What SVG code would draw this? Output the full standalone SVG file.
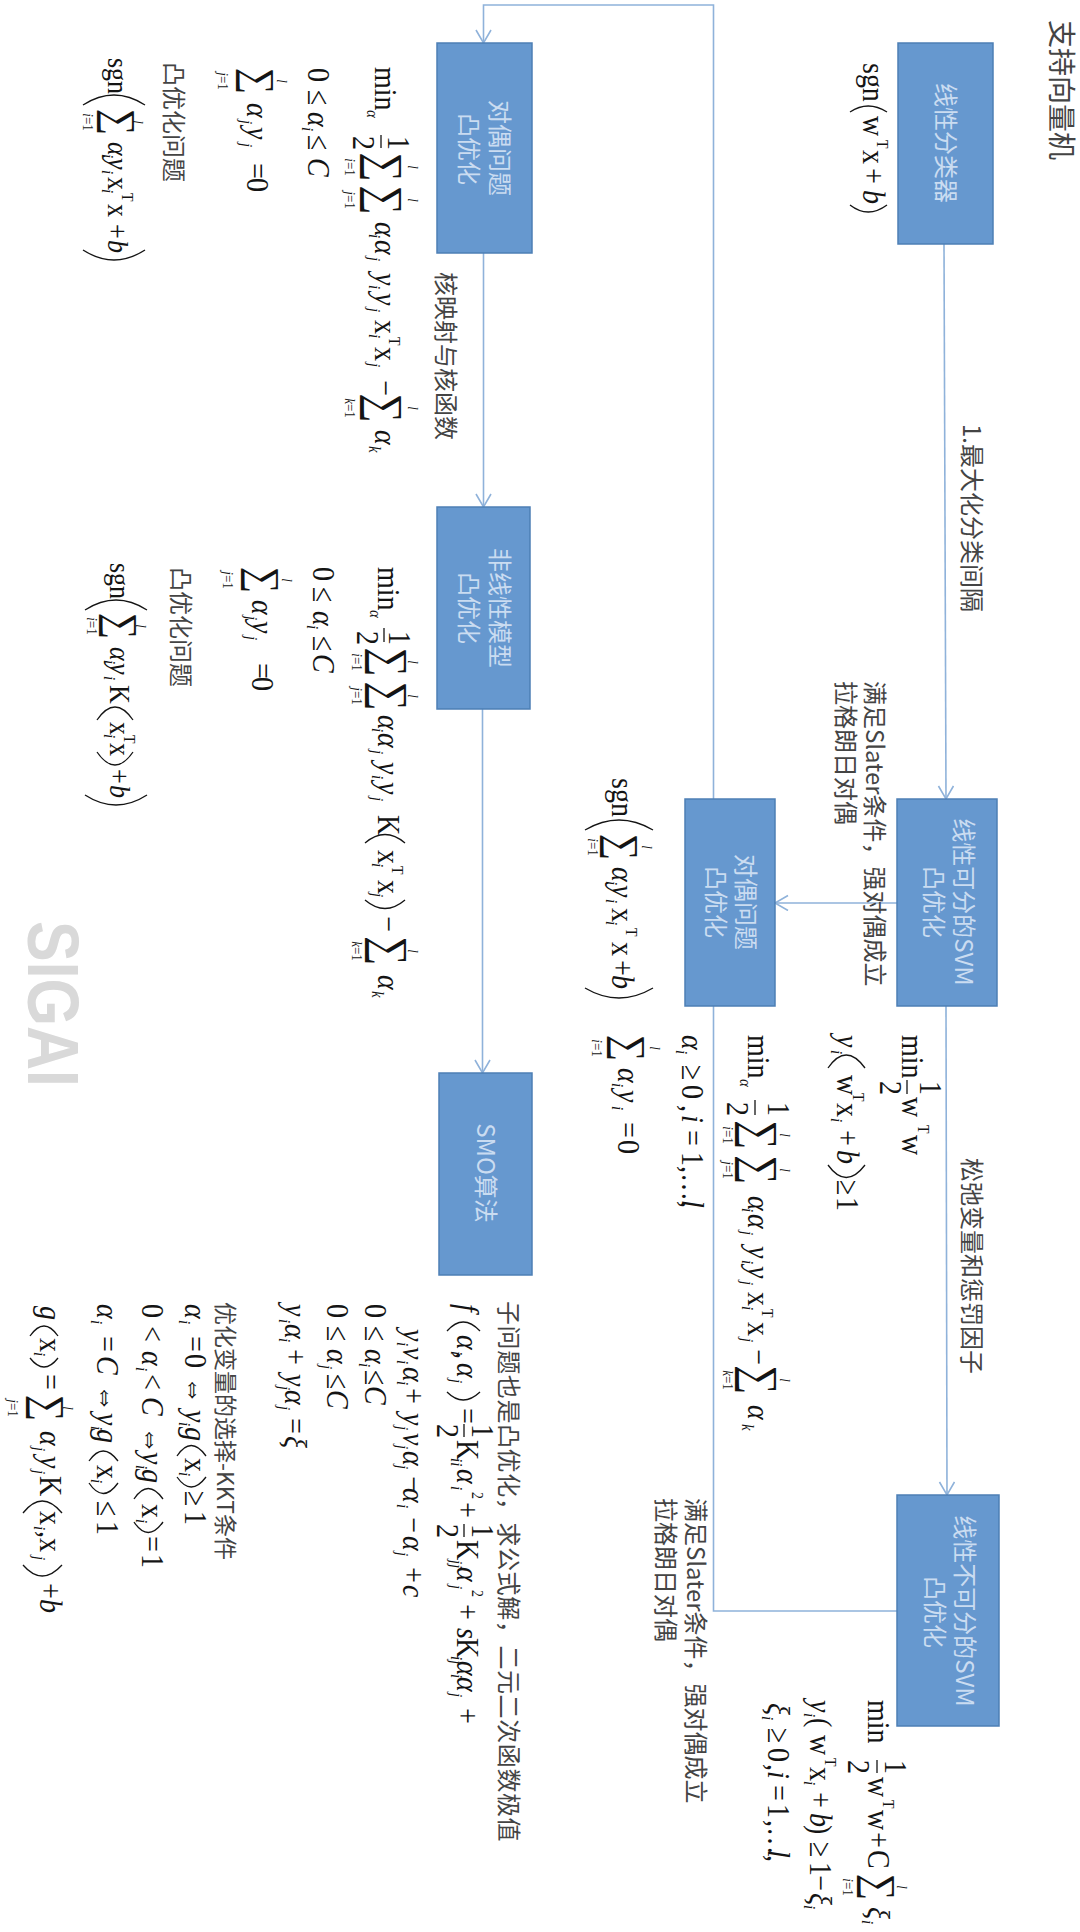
<svg xmlns="http://www.w3.org/2000/svg" width="1080" height="1932" viewBox="0 0 1080 1932">
<style>
.box{fill:#6698cf;stroke:#4d7fb5;stroke-width:1.5}
.c{fill:none;stroke:#8fb2da;stroke-width:1.6}
.t{font-family:"Noto Sans CJK SC","Liberation Sans",sans-serif;font-size:24px;fill:#444}
.w{font-family:"Noto Sans CJK SC","Liberation Sans",sans-serif;font-size:24px;fill:#cadcf1;text-anchor:middle}
.m{font-family:"Liberation Serif","DejaVu Serif",serif;font-size:28px;fill:#141414}
.n{font-size:26px}
.i{font-style:italic}
.s{font-size:15px;font-style:italic}
.u{font-size:14px;font-style:normal}
.l{font-family:"Liberation Serif",serif;font-size:13px;fill:#141414;text-anchor:middle}
.g{font-family:"Liberation Serif",serif;font-size:41px;fill:#141414;text-anchor:middle}
.h{font-size:37px}
.p{fill:none;stroke:#141414;stroke-width:1.3}
.logo{font-family:"Liberation Sans",sans-serif;font-weight:bold;font-size:72px;fill:#d9d9d9}
</style>
<defs>
<marker id="a" markerUnits="userSpaceOnUse" markerWidth="16" markerHeight="18" refX="14" refY="8" orient="auto"><path d="M1,0.5 L14,8 L1,15.5" fill="none" stroke="#8fb2da" stroke-width="1.6"/></marker>
</defs>

<g id="connectors">
<path class="c" d="M713.5 799V5H483.5V43" marker-end="url(#a)"/>
<path class="c" d="M944 244L946 799" marker-end="url(#a)"/>
<path class="c" d="M946 1006L947 1495" marker-end="url(#a)"/>
<path class="c" d="M897 903H775" marker-end="url(#a)"/>
<path class="c" d="M897 1611H713.5V1006"/>
<path class="c" d="M483.5 253V507" marker-end="url(#a)"/>
<path class="c" d="M482.5 709V1073" marker-end="url(#a)"/>
</g>

<g id="title"><text class="t" style="font-size:28px" transform="translate(1051,20) rotate(90)">支持向量机</text></g>

<g id="n-linear"><rect class="box" x="898" y="43" width="95" height="201"/><text class="w" transform="translate(937,143) rotate(90)">线性分类器</text></g>
<g id="n-dual-left"><rect class="box" x="437" y="43" width="95" height="210"/><text class="w" transform="translate(491,148) rotate(90)">对偶问题</text><text class="w" transform="translate(460,149) rotate(90)">凸优化</text></g>
<g id="n-nonlinear"><rect class="box" x="437" y="507" width="93" height="202"/><text class="w" transform="translate(491,608) rotate(90)">非线性模型</text><text class="w" transform="translate(460,608) rotate(90)">凸优化</text></g>
<g id="n-separable"><rect class="box" x="897" y="799" width="100" height="207"/><text class="w" transform="translate(955,902) rotate(90)">线性可分的SVM</text><text class="w" transform="translate(925,902) rotate(90)">凸优化</text></g>
<g id="n-dual-mid"><rect class="box" x="685" y="799" width="90" height="207"/><text class="w" transform="translate(737,902) rotate(90)">对偶问题</text><text class="w" transform="translate(707,902) rotate(90)">凸优化</text></g>
<g id="n-smo"><rect class="box" x="439" y="1073" width="93" height="202"/><text class="w" transform="translate(477,1173) rotate(90)">SMO算法</text></g>
<g id="n-nonseparable"><rect class="box" x="897" y="1495" width="102" height="231"/><text class="w" transform="translate(956,1611) rotate(90)">线性不可分的SVM</text><text class="w" transform="translate(926,1612) rotate(90)">凸优化</text></g>

<g id="labels">
<text class="t" transform="translate(963,424) rotate(90)">1.最大化分类间隔</text>
<text class="t" transform="translate(437,272) rotate(90)">核映射与核函数</text>
<text class="t" transform="translate(866,681) rotate(90)">满足Slater条件，强对偶成立</text>
<text class="t" transform="translate(837,681) rotate(90)">拉格朗日对偶</text>
<text class="t" transform="translate(963,1158) rotate(90)">松弛变量和惩罚因子</text>
<text class="t" transform="translate(687,1498) rotate(90)">满足Slater条件，强对偶成立</text>
<text class="t" transform="translate(657,1498) rotate(90)">拉格朗日对偶</text>
<text class="t" transform="translate(165,62) rotate(90)">凸优化问题</text>
<text class="t" transform="translate(172,567) rotate(90)">凸优化问题</text>
<text class="t" style="letter-spacing:.6px" transform="translate(500,1301) rotate(90)">子问题也是凸优化，求公式解，二元二次函数极值</text>
<text class="t" style="font-size:23px" transform="translate(217,1302) rotate(90)">优化变量的选择-KKT条件</text>
</g>

<g id="f-linear">
<g transform="translate(863,0) rotate(90) scale(1,1.15)"><text class="m"><tspan x="63">sgn</tspan><tspan x="116">w</tspan><tspan class="u" x="140" y="-12">T</tspan><tspan x="150" y="0">x</tspan><tspan x="168">+</tspan><tspan class="i" x="190">b</tspan></text></g>
<path class="p" d="M850 112Q868 100 887 112M850 205Q868 219 887 205"/>
</g>

<g id="f-dual-left">
<g transform="translate(375,0) rotate(90) scale(1,1.15)">
<text class="m"><tspan x="67">min</tspan><tspan class="s" x="110" y="7">α</tspan><tspan x="136" y="-11">1</tspan><tspan x="136" y="19">2</tspan></text>
<text class="g" x="167" y="4">∑</text><text class="l i" x="167" y="-29">l</text><text class="l" x="167" y="26"><tspan class="i">i</tspan>=1</text>
<text class="g" x="200" y="4">∑</text><text class="l i" x="200" y="-29">l</text><text class="l" x="200" y="26"><tspan class="i">j</tspan>=1</text>
<text class="m"><tspan class="i" x="222">α</tspan><tspan class="s" x="234" y="5">i</tspan><tspan class="i" x="240" y="0">α</tspan><tspan class="s" x="257" y="5">j</tspan><tspan class="i" x="273" y="0">y</tspan><tspan class="s" x="285" y="5">i</tspan><tspan class="i" x="293" y="0">y</tspan><tspan class="s" x="308" y="5">j</tspan><tspan x="320" y="0">x</tspan><tspan class="s" x="334" y="5">i</tspan><tspan class="u" x="337" y="-12">T</tspan><tspan x="347" y="0">x</tspan><tspan class="s" x="363" y="5">j</tspan><tspan x="380" y="0">−</tspan></text>
<text class="g" x="408" y="4">∑</text><text class="l i" x="408" y="-29">l</text><text class="l" x="408" y="26"><tspan class="i">k</tspan>=1</text>
<text class="m"><tspan class="i" x="430">α</tspan><tspan class="s" x="446" y="5">k</tspan></text>
</g>
<path class="p" d="M381 135V148"/>
</g>

<g id="f-dual-left-c1"><g transform="translate(308,0) rotate(90) scale(1,1.15)"><text class="m"><tspan x="68">0</tspan><tspan x="90">≤</tspan><tspan class="i" x="112">α</tspan><tspan class="s" x="127" y="5">i</tspan><tspan x="135" y="0">≤</tspan><tspan class="i" x="158">C</tspan></text></g></g>
<g id="f-dual-left-c2"><g transform="translate(247,0) rotate(90) scale(1,1.15)">
<text class="g h" x="81" y="2">∑</text><text class="l i" x="81" y="-26">l</text><text class="l" x="81" y="25"><tspan class="i">j</tspan>=1</text>
<text class="m"><tspan class="i" x="103">α</tspan><tspan class="s" x="120" y="5">j</tspan><tspan class="i" x="127" y="0">y</tspan><tspan class="s" x="143" y="5">j</tspan><tspan x="163" y="0">=</tspan><tspan x="178">0</tspan></text>
</g></g>
<g id="f-dual-left-sgn">
<g transform="translate(108,0) rotate(90) scale(1,1.15)">
<text class="m n" x="58">sgn</text>
<text class="g h" x="122" y="2">∑</text><text class="l i" x="122" y="-22">l</text><text class="l" x="122" y="22"><tspan class="i">i</tspan>=1</text>
<text class="m n"><tspan class="i" x="142">α</tspan><tspan class="s" x="154" y="5">i</tspan><tspan class="i" x="158" y="0">y</tspan><tspan class="s" x="170" y="5">i</tspan><tspan x="177" y="0">x</tspan><tspan class="s" x="189" y="5">i</tspan><tspan class="u" x="193" y="-12">T</tspan><tspan x="204" y="0">x</tspan><tspan x="224">+</tspan><tspan class="i" x="240">b</tspan></text>
</g>
<path class="p" d="M83 105Q114 85 145 105M83 250Q114 270 145 250"/>
</g>

<g id="f-nonlinear">
<g transform="translate(378,0) rotate(90) scale(1,1.15)">
<text class="m"><tspan x="567">min</tspan><tspan class="s" x="610" y="7">α</tspan><tspan x="631" y="-10">1</tspan><tspan x="631" y="18">2</tspan></text>
<text class="g" x="662" y="3">∑</text><text class="l i" x="662" y="-26">l</text><text class="l" x="662" y="23"><tspan class="i">i</tspan>=1</text>
<text class="g" x="696" y="3">∑</text><text class="l i" x="696" y="-26">l</text><text class="l" x="696" y="23"><tspan class="i">j</tspan>=1</text>
<text class="m"><tspan class="i" x="715">α</tspan><tspan class="s" x="728" y="5">i</tspan><tspan class="i" x="733" y="0">α</tspan><tspan class="s" x="750" y="5">j</tspan><tspan class="i" x="762" y="0">y</tspan><tspan class="s" x="775" y="5">i</tspan><tspan class="i" x="782" y="0">y</tspan><tspan class="s" x="797" y="5">j</tspan><tspan x="815" y="0">K</tspan><tspan x="850">x</tspan><tspan class="s" x="863" y="5">i</tspan><tspan class="u" x="866" y="-12">T</tspan><tspan x="880" y="0">x</tspan><tspan class="s" x="893" y="5">j</tspan><tspan x="916" y="0">−</tspan></text>
<text class="g" x="951" y="3">∑</text><text class="l i" x="951" y="-26">l</text><text class="l" x="951" y="23"><tspan class="i">k</tspan>=1</text>
<text class="m"><tspan class="i" x="975">α</tspan><tspan class="s" x="991" y="5">k</tspan></text>
</g>
<path class="p" d="M384 628V642M365 843Q385 826 405 843M365 900Q385 917 405 900"/>
</g>
<g id="f-nonlinear-c1"><g transform="translate(313,0) rotate(90) scale(1,1.15)"><text class="m"><tspan x="567">0</tspan><tspan x="587">≤</tspan><tspan class="i" x="611">α</tspan><tspan class="s" x="625" y="5">i</tspan><tspan x="636" y="0">≤</tspan><tspan class="i" x="654">C</tspan></text></g></g>
<g id="f-nonlinear-c2"><g transform="translate(252,0) rotate(90) scale(1,1.15)">
<text class="g h" x="580" y="2">∑</text><text class="l i" x="580" y="-26">l</text><text class="l" x="580" y="25"><tspan class="i">j</tspan>=1</text>
<text class="m"><tspan class="i" x="600">α</tspan><tspan class="s" x="616" y="5">j</tspan><tspan class="i" x="621" y="0">y</tspan><tspan class="s" x="636" y="5">j</tspan><tspan x="663" y="0">=</tspan><tspan x="677">0</tspan></text>
</g></g>
<g id="f-nonlinear-sgn">
<g transform="translate(110,0) rotate(90) scale(1,1.15)">
<text class="m n" x="563">sgn</text>
<text class="g h" x="626" y="2">∑</text><text class="l i" x="626" y="-23">l</text><text class="l" x="626" y="20"><tspan class="i">i</tspan>=1</text>
<text class="m n"><tspan class="i" x="647">α</tspan><tspan class="s" x="660" y="5">i</tspan><tspan class="i" x="663" y="0">y</tspan><tspan class="s" x="676" y="5">i</tspan><tspan x="685" y="0">K</tspan><tspan x="722">x</tspan><tspan class="s" x="734" y="5">i</tspan><tspan class="u" x="735" y="-12">T</tspan><tspan x="743" y="0">x</tspan><tspan x="769">+</tspan><tspan class="i" x="785">b</tspan></text>
</g>
<path class="p" d="M85 610Q116 590 147 610M97 720Q115 694 133 720M97 752Q115 778 133 752M85 795Q116 815 147 795"/>
</g>

<g id="f-mid-sgn">
<g transform="translate(612,0) rotate(90) scale(1,1.15)">
<text class="m" x="778">sgn</text>
<text class="g h" x="847" y="3">∑</text><text class="l i" x="847" y="-26">l</text><text class="l" x="847" y="21"><tspan class="i">i</tspan>=1</text>
<text class="m"><tspan class="i" x="867">α</tspan><tspan class="s" x="881" y="5">i</tspan><tspan class="i" x="885" y="0">y</tspan><tspan class="s" x="899" y="5">i</tspan><tspan x="908" y="0">x</tspan><tspan class="s" x="921" y="5">i</tspan><tspan class="u" x="928" y="-12">T</tspan><tspan x="942" y="0">x</tspan><tspan x="960">+</tspan><tspan class="i" x="975">b</tspan></text>
</g>
<path class="p" d="M585 830Q619 810 653 830M585 988Q619 1008 653 988"/>
</g>
<g id="f-mid-c2"><g transform="translate(618,0) rotate(90) scale(1,1.15)">
<text class="g h" x="1048" y="2">∑</text><text class="l i" x="1048" y="-28">l</text><text class="l" x="1048" y="23"><tspan class="i">i</tspan>=1</text>
<text class="m"><tspan class="i" x="1068">α</tspan><tspan class="s" x="1083" y="5">i</tspan><tspan class="i" x="1090" y="0">y</tspan><tspan class="s" x="1106" y="5">i</tspan><tspan x="1122" y="0">=</tspan><tspan x="1140">0</tspan></text>
</g></g>
<g id="f-mid-c1"><g transform="translate(682,0) rotate(90) scale(1,1.15)"><text class="m"><tspan class="i" x="1035">α</tspan><tspan class="s" x="1050" y="5">i</tspan><tspan x="1065" y="0">≥</tspan><tspan x="1085">0</tspan><tspan x="1105">,</tspan><tspan class="i" x="1115">i</tspan><tspan x="1130">=</tspan><tspan x="1152">1</tspan><tspan x="1166">,…,</tspan><tspan class="i" x="1200">l</tspan></text></g></g>
<g id="f-mid-min">
<g transform="translate(748,0) rotate(90) scale(1,1.15)">
<text class="m"><tspan x="1035">min</tspan><tspan class="s" x="1079" y="7">α</tspan><tspan x="1102" y="-17">1</tspan><tspan x="1102" y="18">2</tspan></text>
<text class="g" x="1135" y="3">∑</text><text class="l i" x="1135" y="-28">l</text><text class="l" x="1135" y="22"><tspan class="i">i</tspan>=1</text>
<text class="g" x="1170" y="3">∑</text><text class="l i" x="1170" y="-28">l</text><text class="l" x="1170" y="22"><tspan class="i">j</tspan>=1</text>
<text class="m"><tspan class="i" x="1196">α</tspan><tspan class="s" x="1208" y="5">i</tspan><tspan class="i" x="1214" y="0">α</tspan><tspan class="s" x="1231" y="5">j</tspan><tspan class="i" x="1246" y="0">y</tspan><tspan class="s" x="1260" y="5">i</tspan><tspan class="i" x="1266" y="0">y</tspan><tspan class="s" x="1281" y="5">j</tspan><tspan x="1292" y="0">x</tspan><tspan class="s" x="1306" y="5">i</tspan><tspan class="u" x="1309" y="-12">T</tspan><tspan x="1322" y="0">x</tspan><tspan class="s" x="1338" y="5">j</tspan><tspan x="1349" y="0">−</tspan></text>
<text class="g" x="1380" y="3">∑</text><text class="l i" x="1380" y="-28">l</text><text class="l" x="1380" y="22"><tspan class="i">k</tspan>=1</text>
<text class="m"><tspan class="i" x="1405">α</tspan><tspan class="s" x="1424" y="5">k</tspan></text>
</g>
<path class="p" d="M755 1100V1115"/>
</g>
<g id="f-sep-c"><g transform="translate(837,0) rotate(90) scale(1,1.15)"><text class="m"><tspan class="i" x="1035">y</tspan><tspan class="s" x="1050" y="5">i</tspan><tspan x="1075" y="0">w</tspan><tspan class="u" x="1093" y="-14">T</tspan><tspan x="1103" y="0">x</tspan><tspan class="s" x="1118" y="5">i</tspan><tspan x="1130" y="0">+</tspan><tspan class="i" x="1150">b</tspan><tspan x="1180">≥</tspan><tspan x="1197">1</tspan></text></g><path class="p" d="M828 1068Q846 1042 865 1068M828 1165Q846 1190 865 1165"/></g>
<g id="f-sep-min">
<g transform="translate(902,0) rotate(90) scale(1,1.15)"><text class="m"><tspan x="1035">min</tspan><tspan x="1081" y="-16">1</tspan><tspan x="1081" y="19">2</tspan><tspan x="1097" y="0">w</tspan><tspan class="u" x="1125" y="-14">T</tspan><tspan x="1135" y="0">w</tspan></text></g>
<path class="p" d="M907 1080V1094"/>
</g>

<g id="f-nonsep-min">
<g transform="translate(868,0) rotate(90) scale(1,1.15)">
<text class="m"><tspan x="1700">min</tspan><tspan x="1760" y="-15">1</tspan><tspan x="1760" y="17">2</tspan><tspan x="1777" y="0">w</tspan><tspan class="u" x="1800" y="-13">T</tspan><tspan x="1810" y="0">w</tspan><tspan x="1832">+</tspan><tspan x="1850">C</tspan></text>
<text class="g h" x="1887" y="2">∑</text><text class="l i" x="1887" y="-25">l</text><text class="l" x="1887" y="22"><tspan class="i">i</tspan>=1</text>
<text class="m"><tspan class="i" x="1907">ξ</tspan><tspan class="s" x="1920" y="5">i</tspan></text>
</g>
<path class="p" d="M877 1760V1773"/>
</g>
<g id="f-nonsep-c1"><g transform="translate(810,0) rotate(90) scale(1,1.15)"><text class="m"><tspan class="i" x="1700">y</tspan><tspan class="s" x="1713" y="5">i</tspan><tspan x="1718" y="0">(</tspan><tspan x="1735">w</tspan><tspan class="u" x="1758" y="-13">T</tspan><tspan x="1767" y="0">x</tspan><tspan class="s" x="1781" y="5">i</tspan><tspan x="1792" y="0">+</tspan><tspan class="i" x="1813">b</tspan><tspan x="1825">)</tspan><tspan x="1842">≥</tspan><tspan x="1862">1</tspan><tspan x="1875">−</tspan><tspan class="i" x="1893">ξ</tspan><tspan class="s" x="1905" y="5">i</tspan></text></g></g>
<g id="f-nonsep-c2"><g transform="translate(768,0) rotate(90) scale(1,1.15)"><text class="m"><tspan class="i" x="1703">ξ</tspan><tspan class="s" x="1716" y="5">i</tspan><tspan x="1728" y="0">≥</tspan><tspan x="1748">0</tspan><tspan x="1764">,</tspan><tspan class="i" x="1771">i</tspan><tspan x="1785">=</tspan><tspan x="1804">1</tspan><tspan x="1820">,…,</tspan><tspan class="i" x="1850">l</tspan></text></g></g>

<g id="f-smo-f">
<g transform="translate(457,0) rotate(90) scale(1,1.15)">
<text class="m"><tspan class="i" x="1304">f</tspan><tspan class="i" x="1335">α</tspan><tspan class="s" x="1351" y="5">i</tspan><tspan x="1352" y="0">,</tspan><tspan class="i" x="1363">α</tspan><tspan class="s" x="1379" y="5">j</tspan><tspan x="1408" y="0">=</tspan><tspan x="1424" y="-13">1</tspan><tspan x="1424" y="17">2</tspan><tspan x="1440" y="0">K</tspan><tspan class="s" x="1458" y="5">ii</tspan><tspan class="i" x="1469" y="0">α</tspan><tspan class="s" x="1486" y="5">i</tspan><tspan class="u" x="1492" y="-13">2</tspan><tspan x="1502" y="0">+</tspan><tspan x="1524" y="-13">1</tspan><tspan x="1524" y="17">2</tspan><tspan x="1540" y="0">K</tspan><tspan class="s" x="1560" y="5">jj</tspan><tspan class="i" x="1567" y="0">α</tspan><tspan class="s" x="1585" y="5">j</tspan><tspan class="u" x="1590" y="-13">2</tspan><tspan x="1604" y="0">+</tspan><tspan class="i" x="1628">s</tspan><tspan x="1638">K</tspan><tspan class="s" x="1656" y="5">ij</tspan><tspan class="i" x="1661" y="0">α</tspan><tspan class="s" x="1674" y="5">i</tspan><tspan class="i" x="1677" y="0">α</tspan><tspan class="s" x="1693" y="5">j</tspan><tspan x="1708" y="0">+</tspan></text>
</g>
<path class="p" d="M447 1331Q463 1313 480 1331M447 1392Q463 1408 480 1392M464 1424V1437M464 1524V1537"/>
</g>
<g id="f-smo-2"><g transform="translate(403,0) rotate(90) scale(1,1.15)"><text class="m"><tspan class="i" x="1329">y</tspan><tspan class="s" x="1342" y="5">i</tspan><tspan class="i" x="1347" y="0">v</tspan><tspan class="s" x="1360" y="5">i</tspan><tspan class="i" x="1367" y="0">α</tspan><tspan class="s" x="1381" y="5">i</tspan><tspan x="1388" y="0">+</tspan><tspan class="i" x="1413">y</tspan><tspan class="s" x="1426" y="5">j</tspan><tspan class="i" x="1433" y="0">v</tspan><tspan class="s" x="1445" y="5">j</tspan><tspan class="i" x="1451" y="0">α</tspan><tspan class="s" x="1465" y="5">j</tspan><tspan x="1476" y="0">−</tspan><tspan class="i" x="1488">α</tspan><tspan class="s" x="1504" y="5">i</tspan><tspan x="1517" y="0">−</tspan><tspan class="i" x="1536">α</tspan><tspan class="s" x="1552" y="5">j</tspan><tspan x="1567" y="0">+</tspan><tspan class="i" x="1585">c</tspan></text></g></g>
<g id="f-smo-3"><g transform="translate(365,0) rotate(90) scale(1,1.15)"><text class="m"><tspan x="1304">0</tspan><tspan x="1326">≤</tspan><tspan class="i" x="1349">α</tspan><tspan class="s" x="1363" y="5">i</tspan><tspan x="1370" y="0">≤</tspan><tspan class="i" x="1386">C</tspan></text></g></g>
<g id="f-smo-4"><g transform="translate(327,0) rotate(90) scale(1,1.15)"><text class="m"><tspan x="1304">0</tspan><tspan x="1326">≤</tspan><tspan class="i" x="1349">α</tspan><tspan class="s" x="1365" y="5">j</tspan><tspan x="1374" y="0">≤</tspan><tspan class="i" x="1390">C</tspan></text></g></g>
<g id="f-smo-5"><g transform="translate(285,0) rotate(90) scale(1,1.15)"><text class="m"><tspan class="i" x="1304">y</tspan><tspan class="s" x="1319" y="5">i</tspan><tspan class="i" x="1324" y="0">α</tspan><tspan class="s" x="1338" y="5">i</tspan><tspan x="1349" y="0">+</tspan><tspan class="i" x="1374">y</tspan><tspan class="s" x="1386" y="5">j</tspan><tspan class="i" x="1390" y="0">α</tspan><tspan class="s" x="1406" y="5">j</tspan><tspan x="1418" y="0">=</tspan><tspan class="i" x="1436">ξ</tspan></text></g></g>
<g id="f-kkt-1"><g transform="translate(185,0) rotate(90) scale(1,1.15)"><text class="m"><tspan class="i" x="1304">α</tspan><tspan class="s" x="1320" y="5">i</tspan><tspan x="1336" y="0">=</tspan><tspan x="1354">0</tspan><tspan x="1376">⇔</tspan><tspan class="i" x="1410">y</tspan><tspan class="s" x="1422" y="5">i</tspan><tspan class="i" x="1427" y="0">g</tspan><tspan x="1458">x</tspan><tspan class="s" x="1472" y="5">i</tspan><tspan x="1491" y="0">≥</tspan><tspan x="1511">1</tspan></text></g><path class="p" d="M177 1456Q191 1435 206 1456M177 1477Q191 1497 206 1477"/></g>
<g id="f-kkt-2"><g transform="translate(142,0) rotate(90) scale(1,1.15)"><text class="m"><tspan x="1304">0</tspan><tspan x="1326">&lt;</tspan><tspan class="i" x="1351">α</tspan><tspan class="s" x="1367" y="5">i</tspan><tspan x="1374" y="0">&lt;</tspan><tspan class="i" x="1397">C</tspan><tspan x="1426">⇔</tspan><tspan class="i" x="1452">y</tspan><tspan class="s" x="1465" y="5">i</tspan><tspan class="i" x="1469" y="0">g</tspan><tspan x="1504">x</tspan><tspan class="s" x="1519" y="5">i</tspan><tspan x="1536" y="0">=</tspan><tspan x="1554">1</tspan></text></g><path class="p" d="M134 1499Q148 1478 163 1499M134 1522Q148 1543 163 1522"/></g>
<g id="f-kkt-3"><g transform="translate(97,0) rotate(90) scale(1,1.15)"><text class="m"><tspan class="i" x="1304">α</tspan><tspan class="s" x="1320" y="5">i</tspan><tspan x="1336" y="0">=</tspan><tspan class="i" x="1356">C</tspan><tspan x="1384">⇔</tspan><tspan class="i" x="1413">y</tspan><tspan class="s" x="1426" y="5">i</tspan><tspan class="i" x="1429" y="0">g</tspan><tspan x="1465">x</tspan><tspan class="s" x="1479" y="5">i</tspan><tspan x="1501" y="0">≤</tspan><tspan x="1521">1</tspan></text></g><path class="p" d="M89 1461Q103 1441 118 1461M89 1483Q103 1504 118 1483"/></g>
<g id="f-kkt-4">
<g transform="translate(40,0) rotate(90) scale(1,1.15)">
<text class="m"><tspan class="i" x="1306">g</tspan><tspan x="1338">x</tspan><tspan class="s" x="1352" y="5">i</tspan><tspan x="1374" y="0">=</tspan></text>
<text class="g h" x="1408" y="4">∑</text><text class="l i" x="1408" y="-20">l</text><text class="l" x="1408" y="28"><tspan class="i">j</tspan>=1</text>
<text class="m"><tspan class="i" x="1431">α</tspan><tspan class="s" x="1447" y="5">j</tspan><tspan class="i" x="1456" y="0">y</tspan><tspan class="s" x="1470" y="5">j</tspan><tspan x="1476" y="0">K</tspan><tspan x="1511">x</tspan><tspan class="s" x="1526" y="5">i</tspan><tspan x="1531" y="0">,</tspan><tspan x="1538">x</tspan><tspan class="s" x="1556" y="5">j</tspan><tspan x="1583" y="0">+</tspan><tspan class="i" x="1599">b</tspan></text>
</g>
<path class="p" d="M30 1336Q44 1316 58 1336M30 1358Q44 1376 58 1358M23 1513Q42 1489 62 1513M23 1565Q42 1587 62 1565"/>
</g>

<g id="watermark"><text class="logo" textLength="166" lengthAdjust="spacingAndGlyphs" transform="translate(28,921) rotate(90)">SIGAI</text></g>
</svg>
